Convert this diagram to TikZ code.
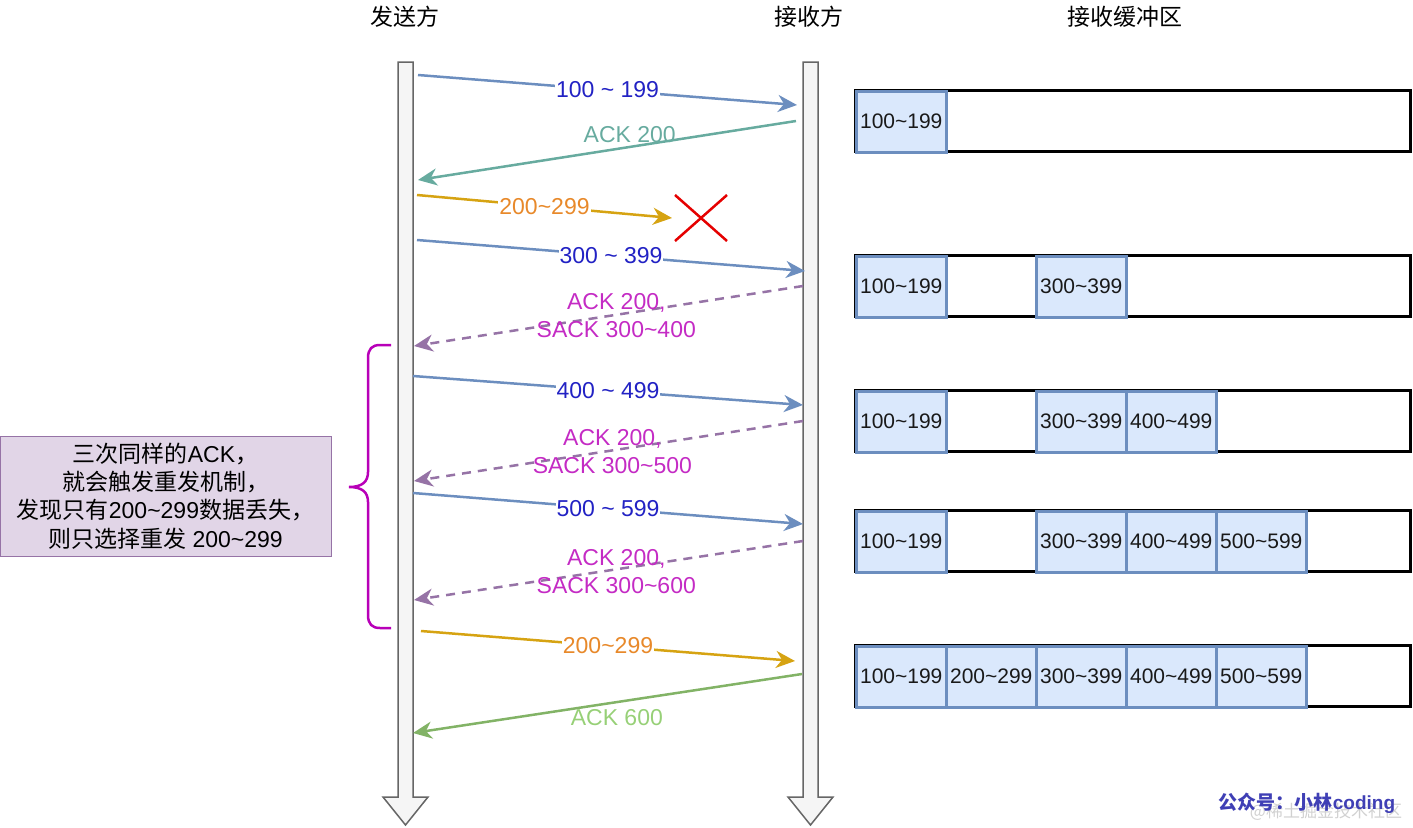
\documentclass[tikz,border=0pt]{standalone}
\usepackage{fontspec}
\setmainfont{Liberation Sans}
\newfontfamily\cjk{Noto Sans CJK SC}
\usetikzlibrary{arrows.meta}
\definecolor{lifefill}{HTML}{F5F5F5}
\definecolor{lifedraw}{HTML}{666666}
\definecolor{datablue}{HTML}{6C8EBF}
\definecolor{datatext}{HTML}{2222C4}
\definecolor{ackgreen}{HTML}{67AB9F}
\definecolor{lastgreen}{HTML}{82B366}
\definecolor{lasttext}{HTML}{97D077}
\definecolor{gold}{HTML}{D6A312}
\definecolor{goldtext}{HTML}{E8892A}
\definecolor{sackline}{HTML}{9673A6}
\definecolor{sacktext}{HTML}{C42BC4}
\definecolor{bracecol}{HTML}{B800B8}
\definecolor{notefill}{HTML}{E1D5E7}
\definecolor{cellfill}{HTML}{DAE8FC}
\definecolor{markcol}{HTML}{3F3FB5}
\tikzset{life/.style = {fill = lifefill, draw = lifedraw, line width = 1.5pt}}
\tikzset{msg/.style = {line width = 2.5pt, -{Stealth[length = 19pt, width = 17pt, inset = 6pt]}}}
\tikzset{lbl/.style = {font = \fontsize{23}{28}\selectfont, inner sep = 1pt, align = center}}
\tikzset{onlbl/.style = {lbl, fill = white}}
\tikzset{head/.style = {font = \fontsize{23}{28}\selectfont\cjk, inner sep = 0}}
\tikzset{buf/.style = {draw = black, line width = 3pt}}
\tikzset{cell/.style = {fill = cellfill, draw = datablue, line width = 2.5pt, anchor = north west,
    minimum width = 90pt, minimum height = 61pt, inner sep = 0,
    font = \fontsize{21}{24}\selectfont, text = black!90}}

\begin{document}
\begin{tikzpicture}[x = 1pt, y = -1pt]
    \useasboundingbox (0, 0) rectangle (1413, 827);

    \node [head] (sndhead) at (405, 17) {发送方};
    \node [head] (rcvhead) at (809, 17) {接收方};
    \node [head] (bufhead) at (1125, 17) {接收缓冲区};

    \draw [life] (398, 62) -- (413, 62) -- (413, 797) -- (428, 797) -- (405.5, 825)
      -- (383, 797) -- (398, 797) -- cycle;
    \draw [life] (803, 62) -- (818, 62) -- (818, 797) -- (833, 797) -- (810.5, 825)
      -- (788, 797) -- (803, 797) -- cycle;

    \coordinate (s1) at (418, 75);
    \coordinate (r1) at (797, 105);
    \coordinate (r2) at (796, 121);
    \coordinate (s2) at (418, 180);
    \coordinate (s3) at (417, 195);
    \coordinate (lost) at (672, 218);
    \coordinate (s4) at (417, 240);
    \coordinate (r4) at (805, 271);
    \coordinate (r5) at (803, 286);
    \coordinate (s5) at (414, 346);
    \coordinate (s6) at (413, 376);
    \coordinate (r6) at (803, 405);
    \coordinate (r7) at (803, 421);
    \coordinate (s7) at (414, 481);
    \coordinate (s8) at (413, 493);
    \coordinate (r8) at (803, 524);
    \coordinate (r9) at (803, 541);
    \coordinate (s9) at (414, 600);
    \coordinate (s10) at (421, 631);
    \coordinate (r10) at (795, 661);
    \coordinate (r11) at (802, 674);
    \coordinate (s11) at (413, 733);

    \draw [msg, datablue] (s1) -- node [onlbl, text = datatext] {100 \textasciitilde{} 199} (r1);
    \draw [msg, ackgreen] (r2) -- node [lbl, pos = 0.44, yshift = 12pt, text = ackgreen] {ACK 200} (s2);
    \draw [msg, gold] (s3) -- node [onlbl, text = goldtext] {200\textasciitilde299} (lost);
    \draw [line width = 2.5pt, red!90!black] (675, 195) -- (727, 241) (675, 241) -- (727, 195);
    \draw [msg, datablue] (s4) -- node [onlbl, text = datatext] {300 \textasciitilde{} 399} (r4);
    \draw [msg, sackline, dash pattern = on 9pt off 7pt] (r5)
      -- node [lbl, pos = 0.48, yshift = -1pt, text = sacktext] {ACK 200,\\SACK 300\textasciitilde400} (s5);
    \draw [msg, datablue] (s6) -- node [onlbl, text = datatext] {400 \textasciitilde{} 499} (r6);
    \draw [msg, sackline, dash pattern = on 9pt off 7pt] (r7)
      -- node [lbl, pos = 0.49, yshift = -1pt, text = sacktext] {ACK 200,\\SACK 300\textasciitilde500} (s7);
    \draw [msg, datablue] (s8) -- node [onlbl, text = datatext] {500 \textasciitilde{} 599} (r8);
    \draw [msg, sackline, dash pattern = on 9pt off 7pt] (r9)
      -- node [lbl, pos = 0.48, yshift = -2pt, text = sacktext] {ACK 200,\\SACK 300\textasciitilde600} (s9);
    \draw [msg, gold] (s10) -- node [onlbl, text = goldtext] {200\textasciitilde299} (r10);
    \draw [msg, lastgreen] (r11) -- node [lbl, pos = 0.476, yshift = -15pt, text = lasttext] {ACK 600} (s11);

    \draw [bracecol, line width = 2.5pt] (391, 345) -- (380, 345)
      .. controls (372, 345) and (368, 349) .. (368, 358) -- (368, 472)
      .. controls (368, 482) and (362, 487) .. (349, 487)
      .. controls (362, 487) and (368, 492) .. (368, 502) -- (368, 615)
      .. controls (368, 624) and (372, 628) .. (380, 628) -- (391, 628);

    \node [fill = notefill, draw = sackline, line width = 1pt, minimum width = 331pt,
      minimum height = 120pt, align = center, font = \fontsize{23}{28.3}\selectfont]
      (note) at (165.5, 496) {{\cjk 三次同样的}ACK{\cjk ，}\\{\cjk 就会触发重发机制，}\\
      {\cjk 发现只有}200\textasciitilde299{\cjk 数据丢失，}\\{\cjk 则只选择重发} 200\textasciitilde299};

    \draw [buf] (855, 90) rectangle (1410, 151);
    \node [cell] (b1a) at (855, 90) {100\textasciitilde199};

    \begin{scope}[shift = {(0, 165)}]
      \draw [buf] (855, 90) rectangle (1410, 151);
      \node [cell] (b2a) at (855, 90) {100\textasciitilde199};
      \node [cell] (b2c) at (1035, 90) {300\textasciitilde399};
    \end{scope}

    \begin{scope}[shift = {(0, 300)}]
      \draw [buf] (855, 90) rectangle (1410, 151);
      \node [cell] (b3a) at (855, 90) {100\textasciitilde199};
      \node [cell] (b3c) at (1035, 90) {300\textasciitilde399};
      \node [cell] (b3d) at (1125, 90) {400\textasciitilde499};
    \end{scope}

    \begin{scope}[shift = {(0, 420)}]
      \draw [buf] (855, 90) rectangle (1410, 151);
      \node [cell] (b4a) at (855, 90) {100\textasciitilde199};
      \node [cell] (b4c) at (1035, 90) {300\textasciitilde399};
      \node [cell] (b4d) at (1125, 90) {400\textasciitilde499};
      \node [cell] (b4e) at (1215, 90) {500\textasciitilde599};
    \end{scope}

    \begin{scope}[shift = {(0, 555)}]
      \draw [buf] (855, 90) rectangle (1410, 151);
      \node [cell] (b5a) at (855, 90) {100\textasciitilde199};
      \node [cell] (b5b) at (945, 90) {200\textasciitilde299};
      \node [cell] (b5c) at (1035, 90) {300\textasciitilde399};
      \node [cell] (b5d) at (1125, 90) {400\textasciitilde499};
      \node [cell] (b5e) at (1215, 90) {500\textasciitilde599};
    \end{scope}

    \node [text = black!18, font = \fontsize{17}{20}\selectfont\cjk, inner sep = 0]
      (site) at (1326, 812) {@稀土掘金技术社区};
    \node [text = markcol, font = \fontsize{19}{22}\selectfont\bfseries, inner sep = 0]
      (mark) at (1307, 803) {{\cjk 公众号：小林}coding};
  \end{tikzpicture}
\end{document}
